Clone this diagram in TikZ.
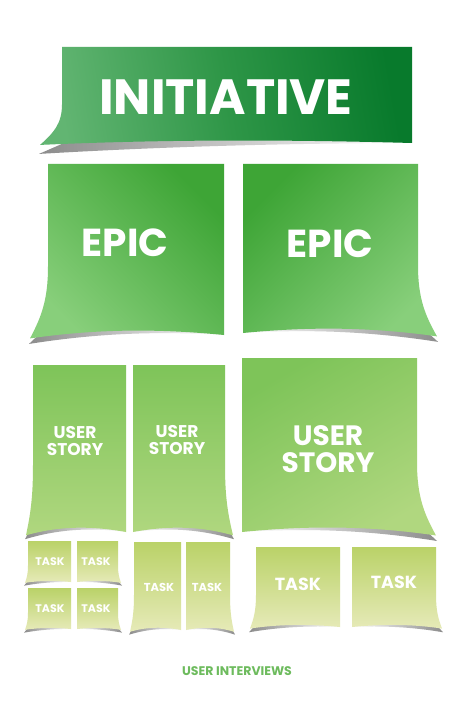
\documentclass[tikz,border=0pt]{standalone}
\usepackage{fontspec}
\setmainfont{Poppins}
\usepackage{tikz}
\usetikzlibrary{positioning,calc}
\definecolor{initlight}{HTML}{62B572}
\definecolor{initmid}{HTML}{2E9647}
\definecolor{initdark}{HTML}{087A2C}
\definecolor{epicdark}{HTML}{3EA536}
\definecolor{epiclight}{HTML}{88CF7B}
\definecolor{storytop}{HTML}{7EC459}
\definecolor{storybot}{HTML}{B0D77F}
\definecolor{tasktop}{HTML}{BAD268}
\definecolor{taskbot}{HTML}{E6EAB8}
\definecolor{shadowgray}{HTML}{8C8C8C}
\definecolor{textgreen}{HTML}{6DBB5D}

% sticky note, bottom left corner curled: L, T, R, B, flare, shading
\newcommand{\curlleft}[6]{%
  \pgfmathsetmacro\notew{#3-#1}\pgfmathsetmacro\noteh{#4-#2}\pgfmathsetmacro\noteoff{2+0.02*\notew}
  \shade[left color=shadowgray, right color=white]
    ({#1-#5-1},{#4+0.02*\noteh+\noteoff}) .. controls ({#1+0.3*\notew},{#4-0.04*\noteh+0.8*\noteoff}) and ({#3-0.35*\notew},{#4-0.035*\noteh+0.4*\noteoff}) .. (#3,#4)
    -- (#3,{#4-0.15*\noteh}) -- ({#1+0.1*\notew},{#4-0.15*\noteh}) -- cycle;
  \shade[#6]
    (#1,#2) -- (#3,#2) -- (#3,#4)
    .. controls ({#3-0.35*\notew},{#4-0.035*\noteh}) and ({#1+0.3*\notew},{#4-0.04*\noteh}) .. ({#1-#5},{#4+0.02*\noteh})
    .. controls ({#1-0.4*#5},{#4-0.1*\noteh}) and (#1,{#4-0.2*\noteh}) .. (#1,{#4-0.4*\noteh}) -- cycle;
}
% sticky note, bottom right corner curled: L, T, R, B, flare, shading
\newcommand{\curlright}[6]{%
  \pgfmathsetmacro\notew{#3-#1}\pgfmathsetmacro\noteh{#4-#2}\pgfmathsetmacro\noteoff{2+0.02*\notew}
  \shade[left color=white, right color=shadowgray]
    ({#3+#5+1},{#4+0.02*\noteh+\noteoff}) .. controls ({#3-0.3*\notew},{#4-0.04*\noteh+0.8*\noteoff}) and ({#1+0.35*\notew},{#4-0.035*\noteh+0.4*\noteoff}) .. (#1,#4)
    -- (#1,{#4-0.15*\noteh}) -- ({#3-0.1*\notew},{#4-0.15*\noteh}) -- cycle;
  \shade[#6]
    (#1,#2) -- (#3,#2) -- (#3,{#4-0.4*\noteh})
    .. controls (#3,{#4-0.2*\noteh}) and ({#3+0.4*#5},{#4-0.1*\noteh}) .. ({#3+#5},{#4+0.02*\noteh})
    .. controls ({#3-0.3*\notew},{#4-0.04*\noteh}) and ({#1+0.35*\notew},{#4-0.035*\noteh}) .. (#1,#4) -- cycle;
}

\begin{document}
\begin{tikzpicture}[
  x=1pt, y=-1pt,
  notetext/.style = {
    text = white,
    font = \bfseries,
    align = center,
    inner sep = 0pt,
  },
  initnote/.style = {left color=initlight, right color=initdark, middle color=initmid, shading angle=100},
  epicnote/.style = {top color=epicdark, bottom color=epiclight},
  storynote/.style = {top color=storytop, bottom color=storybot},
  tasknote/.style = {top color=tasktop, bottom color=taskbot},
]
  \useasboundingbox[fill=white] (0,0) rectangle (474,714);

  \curlleft{62}{47}{412}{143}{22}{initnote}

  \curlleft{48}{164}{224}{335}{18}{epicnote, shading angle=-45}
  \curlright{243}{164}{418}{333}{19}{epicnote, shading angle=45}

  \curlleft{33}{365}{126}{532}{7}{storynote}
  \curlright{133}{365}{225}{532}{8}{storynote}
  \curlright{242}{358}{417}{532}{19}{storynote, shading angle=30}

  \curlleft{28}{541}{71}{582}{3}{tasknote}
  \curlright{77}{541}{118}{582}{3}{tasknote}
  \curlleft{28}{588}{71}{629}{3}{tasknote}
  \curlright{77}{588}{118}{629}{3}{tasknote}
  \curlleft{134}{542}{181}{630}{4}{tasknote}
  \curlright{186}{542}{230}{630}{4}{tasknote}
  \curlleft{256}{547}{340}{627}{6}{tasknote}
  \curlright{352}{547}{436}{627}{6}{tasknote}

  \node[notetext, font=\bfseries\fontsize{49.5}{49.5}\selectfont] (initiative) at (226,97) {INITIATIVE};

  \node[notetext, font=\bfseries\fontsize{39}{39}\selectfont] (epica) at (125,243) {EPIC};
  \node[notetext, font=\bfseries\fontsize{39}{39}\selectfont] (epicb) at (330,244) {EPIC};

  \node[notetext, font=\bfseries\fontsize{17}{17}\selectfont] (storya) at (75,441) {USER\\STORY};
  \node[notetext, font=\bfseries\fontsize{17}{17}\selectfont] (storyb) at (177,440) {USER\\STORY};
  \node[notetext, font=\bfseries\fontsize{28}{26.5}\selectfont] (storyc) at (328,449) {USER\\STORY};

  \node[notetext, font=\bfseries\fontsize{11}{11}\selectfont] (taska) at (50,562) {TASK};
  \node[notetext, font=\bfseries\fontsize{11}{11}\selectfont] (taskb) at (96,562) {TASK};
  \node[notetext, font=\bfseries\fontsize{11}{11}\selectfont] (taskc) at (50,609) {TASK};
  \node[notetext, font=\bfseries\fontsize{11}{11}\selectfont] (taskd) at (96,609) {TASK};
  \node[notetext, font=\bfseries\fontsize{11.5}{11.5}\selectfont] (taske) at (159,587) {TASK};
  \node[notetext, font=\bfseries\fontsize{11.5}{11.5}\selectfont] (taskf) at (207,587) {TASK};
  \node[notetext, font=\bfseries\fontsize{17.5}{17.5}\selectfont] (taskg) at (298,584) {TASK};
  \node[notetext, font=\bfseries\fontsize{17.5}{17.5}\selectfont] (taskh) at (394,582) {TASK};

  \node[notetext, text=textgreen, font=\bfseries\fontsize{12.5}{12.5}\selectfont] (interviews) at (237,671) {USER INTERVIEWS};

\end{tikzpicture}
\end{document}
